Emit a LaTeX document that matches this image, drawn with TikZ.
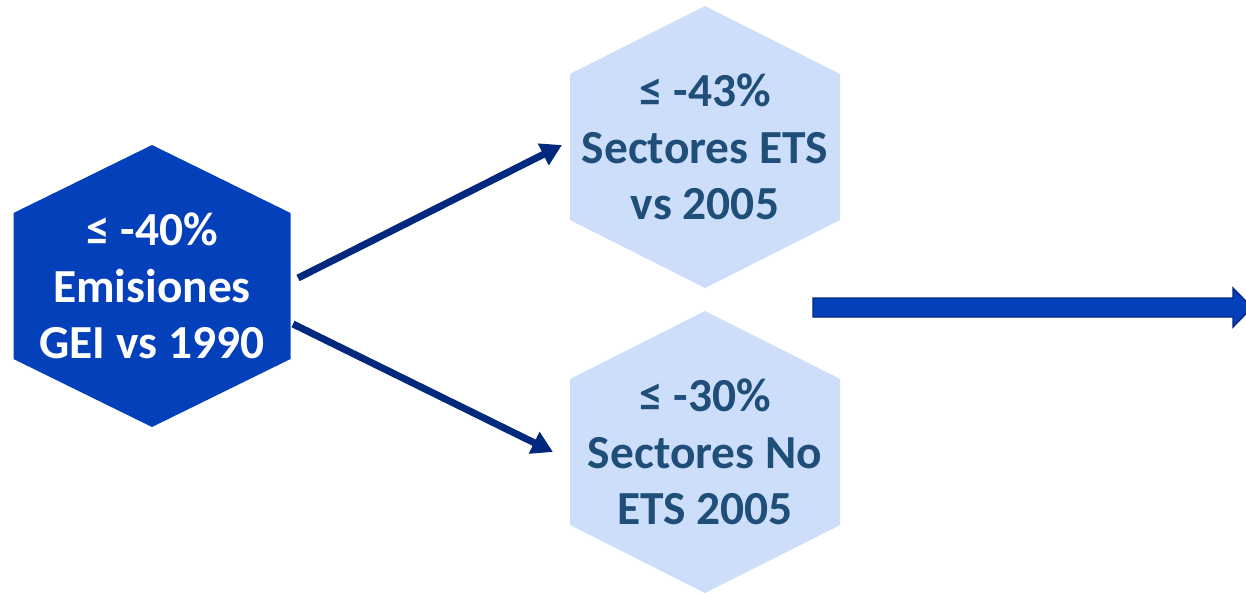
\documentclass[tikz,border=0pt]{standalone}
\usepackage{fontspec}
\setmainfont{Carlito}
\usetikzlibrary{arrows.meta, positioning}

\definecolor{geiblue}{RGB}{5,64,187}
\definecolor{sectorblue}{RGB}{205,222,250}
\definecolor{sectortext}{RGB}{31,78,121}
\definecolor{linknavy}{RGB}{0,40,125}

\begin{document}
\begin{tikzpicture}[x=0.02cm,y=-0.02cm,
 hexlabel/.style={align=center,font=\fontsize{27}{32}\selectfont\bfseries},
 link/.style={-{Triangle[length=0.42cm,width=0.46cm]},line width=0.14cm,draw=linknavy},
 bigarrow/.style={fill=geiblue,draw=linknavy,line width=0.8pt}]

  \useasboundingbox (0,0) rectangle (1246,593);

  % hexagons
  \foreach \x/\y/\w/\c in {152/286/138.5/geiblue, 705/147/135/sectorblue, 705/452/135/sectorblue}
   \fill[\c] (\x,\y) +(0,-141) -- +(\w,-73) -- +(\w,73) -- +(0,141) -- +(-\w,73) -- +(-\w,-73) -- cycle;

  \node[hexlabel,text=white] (gei) at (152,286) {≤ -40\%\\Emisiones\\GEI vs 1990};
  \node[hexlabel,text=sectortext] (ets) at (705,147) {≤ -43\%\\Sectores ETS\\vs 2005};
  \node[hexlabel,text=sectortext] (noets) at (705,452) {≤ -30\%\\Sectores No\\ETS 2005};

  \coordinate (gei up) at (298,278);
  \coordinate (gei down) at (293,324);
  \coordinate (ets in) at (562,145);
  \coordinate (noets in) at (553,452);

  \draw[link] (gei up) -- (ets in);
  \draw[link] (gei down) -- (noets in);

  % flow arrow
  \draw[bigarrow] (813,298) -- (1233,298) -- (1233,288) -- (1252,307.5)
   -- (1233,327) -- (1233,317) -- (813,317) -- cycle;
\end{tikzpicture}
\end{document}
